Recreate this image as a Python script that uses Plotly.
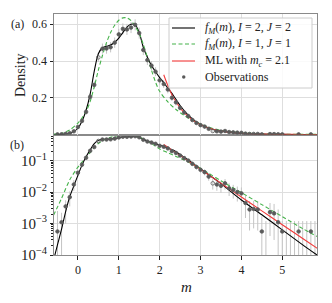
import plotly.graph_objects as go

# ---------------- data ----------------
m_bins = [-0.5, -0.4, -0.3, -0.2, -0.1, 0.0, 0.1, 0.2, 0.3, 0.4,
          0.5, 0.6, 0.7, 0.8, 0.9, 1.0, 1.1, 1.2, 1.3, 1.4,
          1.5, 1.6, 1.7, 1.8, 1.9, 2.0, 2.1, 2.2, 2.3, 2.4,
          2.5, 2.6, 2.7, 2.8, 2.9, 3.0, 3.1, 3.2, 3.3, 3.4,
          3.5, 3.6, 3.7, 3.8, 3.9, 4.0, 4.1, 4.2, 4.3, 4.4,
          4.5, 4.6, 4.7, 4.8, 4.9, 5.0, 5.1, 5.2, 5.3, 5.4,
          5.5, 5.6, 5.7, 5.8]

obs_density = [5.6e-4, 1.1e-3, 0.0035, 0.0069, 0.0174, 0.041, 0.074, 0.123, 0.205, 0.27,
               0.42, 0.467, 0.468, 0.475, 0.50, 0.545, 0.575, 0.572, 0.582, 0.597,
               0.552, 0.46, 0.405, 0.375, 0.342, 0.295, 0.275, 0.245, 0.20, 0.175,
               0.145, 0.12, 0.10, 0.079, 0.063, 0.051, 0.043, 0.031, 0.019, 0.0174,
               0.0158, 0.019, 0.0132, 0.0117, 0.0100, 0.0091, 0.0045, 0.0028, 0.0029, 0.0028,
               5.6e-4, None, 0.0023, 0.0021, 0.0011, 5.6e-4, None, None, None, 5.6e-4,
               None, None, 5.6e-4, None]

err_low = [0, 0, 1.0e-3, 3.5e-3, 0.011, 0.031, 0.062, 0.108, 0.188, 0.25,
           0.395, 0.44, 0.44, 0.447, 0.472, 0.515, 0.545, 0.542, 0.552, 0.567,
           0.522, 0.432, 0.378, 0.35, 0.318, 0.272, 0.253, 0.224, 0.182, 0.158,
           0.13, 0.106, 0.087, 0.067, 0.052, 0.041, 0.034, 0.023, 0.012, 0.011,
           0.0095, 0.012, 0.0075, 0.0062, 0.005, 0.0045, 0.0015, 0.0006, 0.0007, 0.0006,
           0, 0, 0.0004, 0.0003, 0, 0, 0, 0, 0, 0,
           0, 0, 0, 0]

err_high = [2.5e-3, 2.2e-3, 5.5e-3, 0.0105, 0.024, 0.05, 0.086, 0.138, 0.222, 0.29,
            0.445, 0.495, 0.496, 0.503, 0.528, 0.575, 0.605, 0.602, 0.612, 0.627,
            0.582, 0.488, 0.432, 0.40, 0.366, 0.318, 0.297, 0.266, 0.218, 0.192,
            0.16, 0.134, 0.113, 0.091, 0.074, 0.061, 0.052, 0.039, 0.026, 0.024,
            0.022, 0.026, 0.019, 0.017, 0.015, 0.014, 0.0075, 0.0052, 0.0053, 0.0052,
            0.0017, 0.0012, 0.0045, 0.0042, 0.0028, 0.0012, 0.0012, 0.0012, 0.0012, 0.0012,
            0.0012, 0.0012, 0.0012, 0.0012]

open_bins = [0.5, 3.3]

black_m = [-0.6, -0.5, -0.4, -0.3, -0.2, -0.1, 0.0, 0.1, 0.2, 0.3,
           0.4, 0.5, 0.6, 0.7, 0.8, 0.9, 1.0, 1.1, 1.2, 1.3,
           1.4, 1.5, 1.6, 1.7, 1.8, 1.9, 2.0, 2.1, 2.2, 2.3,
           2.5, 2.7, 2.9, 3.2, 3.5, 4.0, 4.5, 5.0, 5.5, 5.9]
black_v = [6.5e-5, 2.1e-4, 6.6e-4, 2.4e-3, 7.1e-3, 0.0158, 0.034, 0.072, 0.132, 0.22,
           0.345, 0.44, 0.472, 0.48, 0.487, 0.502, 0.525, 0.555, 0.585, 0.60,
           0.598, 0.555, 0.475, 0.42, 0.375, 0.342, 0.31, 0.283, 0.252, 0.224,
           0.158, 0.105, 0.068, 0.0355, 0.0186, 0.0056, 0.0019, 6.3e-4, 2.1e-4, 9.0e-5]

green_m = [-0.6, -0.4, -0.2, 0.0, 0.1, 0.2, 0.3, 0.4, 0.5, 0.6,
           0.7, 0.8, 0.9, 1.0, 1.1, 1.2, 1.3, 1.4, 1.5, 1.6,
           1.7, 1.8, 1.9, 2.0, 2.2, 2.4, 2.6, 2.8, 3.0, 3.2,
           3.5, 4.0, 4.5, 5.0, 5.5, 5.9]
green_v = [0.0018, 0.0063, 0.0245, 0.062, 0.09, 0.125, 0.18, 0.26, 0.35, 0.43,
           0.50, 0.555, 0.595, 0.622, 0.635, 0.635, 0.62, 0.59, 0.55, 0.49,
           0.42, 0.35, 0.285, 0.235, 0.178, 0.136, 0.104, 0.077, 0.057, 0.0394,
           0.0228, 0.0096, 0.004, 0.00166, 6.9e-4, 3.6e-4]

red_m = [2.1, 2.2, 2.3, 2.4, 2.5, 2.6, 2.8, 3.0, 3.3, 3.6, 4.0, 4.5, 5.0, 5.5, 5.9]
red_v = [0.325, 0.266, 0.217, 0.178, 0.145, 0.119, 0.0793, 0.0528, 0.0287, 0.0156,
         0.00697, 0.00253, 0.00092, 0.000335, 0.000150]

x_ticks = [0, 1, 2, 3, 4, 5]
lin_ticks = [0.2, 0.4, 0.6]

legend_labels = ["<i>f<sub>M</sub></i>(<i>m</i>), <i>I</i> = 2, <i>J</i> = 2",
                 "<i>f<sub>M</sub></i>(<i>m</i>), <i>I</i> = 1, <i>J</i> = 1",
                 "ML with <i>m<sub>c</sub></i> = 2.1",
                 "Observations"]

# ---------------- styling ----------------
FONT = "Liberation Serif"
BLACK = "#000000"
GREEN = "#45b24a"
RED = "#f23a3a"
OBS = "#5a5a5a"
BAR = "#c4c4c4"
GRID = "#dedede"
FRAME = "#8a8a8a"
TXT = "#222222"
DASH = "4px,2.5px"

# page has the browser's default 8px body margin
PAGE_OFF = 8
W, H = 332 - PAGE_OFF, 303 - PAGE_OFF
PLOT_L, PLOT_R, PLOT_T, PLOT_B = 54, 317, 14, 255   # plot area in window pixels
ML = PLOT_L - PAGE_OFF
MT = PLOT_T - PAGE_OFF
MR = (W + PAGE_OFF) - PLOT_R
MB = (H + PAGE_OFF) - PLOT_B
PW, PH = PLOT_R - PLOT_L, PLOT_B - PLOT_T


def px(x):
    return (x - PLOT_L) / PW


def py(y):
    return (PLOT_B - y) / PH


fig = go.Figure()


def add_panel(xax, yax, log):
    floor = 1e-7
    bx, by = [], []
    for m, lo, hi in zip(m_bins, err_low, err_high):
        lo_d = max(lo, floor) if log else lo
        bx += [m, m, None]
        by += [lo_d, hi, None]
    fig.add_trace(go.Scatter(x=bx, y=by, mode="lines", line=dict(color=BAR, width=1),
                             showlegend=False, hoverinfo="skip", xaxis=xax, yaxis=yax))
    fig.add_trace(go.Scatter(x=black_m, y=black_v, mode="lines",
                             line=dict(color=BLACK, width=1.1, shape="spline", smoothing=0.8),
                             showlegend=False, xaxis=xax, yaxis=yax))
    fig.add_trace(go.Scatter(x=green_m, y=green_v, mode="lines",
                             line=dict(color=GREEN, width=1.1, dash=DASH, shape="spline", smoothing=0.8),
                             showlegend=False, xaxis=xax, yaxis=yax))
    fig.add_trace(go.Scatter(x=red_m, y=red_v, mode="lines",
                             line=dict(color=RED, width=1.1, shape="spline", smoothing=0.6),
                             showlegend=False, xaxis=xax, yaxis=yax))
    xs, ys, syms = [], [], []
    for m, v in zip(m_bins, obs_density):
        if v is None:
            continue
        xs.append(m)
        ys.append(v)
        syms.append("circle-open" if m in open_bins else "circle")
    fig.add_trace(go.Scatter(x=xs, y=ys, mode="markers",
                             marker=dict(color=OBS, size=3.6, symbol=syms, line=dict(width=0.8, color=OBS)),
                             showlegend=False, xaxis=xax, yaxis=yax))


add_panel("x2", "y2", False)
add_panel("x", "y", True)

axis_common = dict(showline=True, linecolor=FRAME, linewidth=1, mirror=True,
                   showgrid=True, gridcolor=GRID, gridwidth=1, zeroline=False,
                   automargin=False, tickfont=dict(family=FONT, size=12, color=TXT))

fig.update_layout(
    width=W, height=H,
    margin=dict(l=ML, r=MR, t=MT, b=MB, autoexpand=False),
    paper_bgcolor="white", plot_bgcolor="white",
    font=dict(family=FONT, size=12, color=TXT),
    showlegend=False,
    xaxis=dict(domain=[0, 1], anchor="y", range=[-0.585, 5.85], tickvals=x_ticks,
               ticks="outside", ticklen=3.5, tickcolor=TXT, **axis_common),
    xaxis2=dict(domain=[0, 1], anchor="y2", matches="x", range=[-0.585, 5.85],
                tickvals=x_ticks, showticklabels=False, ticks="", **axis_common),
    yaxis=dict(domain=[0, 0.5], anchor="x", type="log", range=[-4, -0.17], dtick=1,
               exponentformat="power", ticks="outside", ticklen=3.5, tickcolor=TXT,
               minor=dict(ticks="outside", ticklen=2, tickcolor=TXT, dtick="D1", showgrid=False),
               **axis_common),
    yaxis2=dict(domain=[0.5, 1], anchor="x2", range=[0, 0.656], tickvals=lin_ticks,
                ticktext=[f"{t:.1f}" for t in lin_ticks],
                ticks="outside", ticklen=3.5, tickcolor=TXT, **axis_common),
)

# ---- hand-built legend (matplotlib-like compact rows) ----
fig.add_shape(type="rect", xref="paper", yref="paper",
              x0=px(169), x1=px(312), y0=py(88), y1=py(18),
              line=dict(color="#cccccc", width=1), fillcolor="rgba(255,255,255,0.85)", layer="above")
rows = [28, 44, 61, 77]
styles = [dict(color=BLACK, width=1.1), dict(color=GREEN, width=1.1, dash=DASH),
          dict(color=RED, width=1.1)]
for yrow, st in zip(rows[:3], styles):
    fig.add_shape(type="line", xref="paper", yref="paper", x0=px(172), x1=px(195),
                  y0=py(yrow), y1=py(yrow), line=st, layer="above")
fig.add_shape(type="circle", xref="paper", yref="paper",
              x0=px(182), x1=px(185.5), y0=py(rows[3] + 1.75), y1=py(rows[3] - 1.75),
              fillcolor=OBS, line=dict(color=OBS, width=0), layer="above")
for yrow, lab in zip(rows, legend_labels):
    fig.add_annotation(text=lab, xref="paper", yref="paper", x=px(203), y=py(yrow),
                       xanchor="left", yanchor="middle", showarrow=False,
                       font=dict(family=FONT, size=12, color=TXT))


def label(text, x, y, size=12, angle=0):
    fig.add_annotation(text=text, xref="paper", yref="paper", x=px(x), y=py(y),
                       xanchor="center", yanchor="middle", textangle=angle, showarrow=False,
                       font=dict(family=FONT, size=size, color=TXT))


label("Density", 20, 75, size=14, angle=-90)
label("<i>m</i>", 186, 287, size=15)
label("(a)", 17, 24)
label("(b)", 17, 145)

fig.write_html("out.html")
